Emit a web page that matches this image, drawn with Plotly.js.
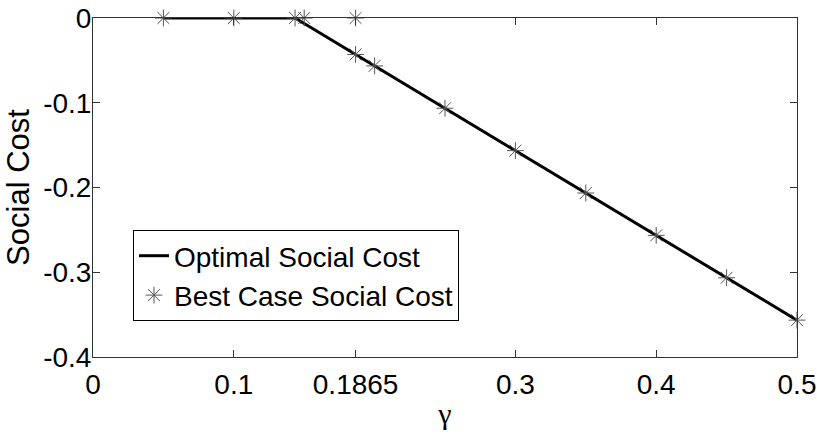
<!DOCTYPE html>
<html>
<head>
<meta charset="utf-8">
<script src="https://cdn.plot.ly/plotly-3.0.1.min.js"></script>
<style>html,body{margin:0;padding:0;background:#fff;}#chart{width:817px;height:441px;}</style>
</head>
<body>
<div id="chart"></div>
<script>
// Optimal social cost (solid line)
const optimalGamma = [0.05, 0.1, 0.1435, 0.15, 0.1865, 0.2, 0.25, 0.3, 0.35, 0.4, 0.45, 0.5];
const optimalCost  = [0, 0, 0, -0.0065, -0.043, -0.0565, -0.1065, -0.1565, -0.2065, -0.2565, -0.3065, -0.3565];
// Best case social cost (asterisk markers)
const bestGamma = [0.05, 0.1, 0.1435, 0.15, 0.1865, 0.1865, 0.2, 0.25, 0.3, 0.35, 0.4, 0.45, 0.5];
const bestCost  = [0, 0, 0, 0, 0, -0.043, -0.0565, -0.1065, -0.1565, -0.2065, -0.2565, -0.3065, -0.3565];
// Ticks
const xTickVals = [0, 0.1, 0.1865, 0.3, 0.4, 0.5];
const xTickText = ['0', '0.1', '0.1865', '0.3', '0.4', '0.5'];
const yTickVals = [0, -0.1, -0.2, -0.3, -0.4];
const yTickText = ['0', '-0.1', '-0.2', '-0.3', '-0.4'];

const traces = [
  {x: optimalGamma, y: optimalCost, type: 'scatter', mode: 'lines', name: 'Optimal Social Cost',
   line: {color: '#000', width: 3}, cliponaxis: false},
  {x: bestGamma, y: bestCost, type: 'scatter', mode: 'markers', name: 'Best Case Social Cost',
   marker: {symbol: 'asterisk-open', size: 14, color: '#555', line: {color: '#555', width: 1}}, cliponaxis: false}
];

const axisBase = {showline: true, mirror: 'ticks', ticks: 'inside', ticklen: 7, tickcolor: '#333',
  linecolor: '#333', linewidth: 1, showgrid: false, zeroline: false,
  tickfont: {family: 'Liberation Sans, Arial, sans-serif', size: 28, color: '#000'}};

const layout = {
  width: 817, height: 441,
  margin: {l: 93, r: 20, t: 18, b: 84},
  paper_bgcolor: '#fff', plot_bgcolor: '#fff',
  showlegend: true,
  xaxis: Object.assign({}, axisBase, {range: [0, 0.5], tickmode: 'array', tickvals: xTickVals, ticktext: xTickText,
    ticklabelstandoff: 2,
    title: {text: 'γ', font: {family: 'Liberation Serif, Times New Roman, serif', size: 30, color: '#000'}, standoff: 4}}),
  yaxis: Object.assign({}, axisBase, {range: [-0.4, 0], tickmode: 'array', tickvals: yTickVals, ticktext: yTickText,
    ticklabelstandoff: -5,
    title: {text: 'Social Cost', font: {family: 'Liberation Sans, Arial, sans-serif', size: 31, color: '#000'}, standoff: 4}}),
  legend: {x: 0.0568, y: 0.3746, xanchor: 'left', yanchor: 'top', bgcolor: '#fff', bordercolor: '#000', borderwidth: 1,
    font: {family: 'Liberation Sans, Arial, sans-serif', size: 28, color: '#000'}}
};

Plotly.newPlot('chart', traces, layout, {displayModeBar: false, staticPlot: true});
</script>
</body>
</html>
